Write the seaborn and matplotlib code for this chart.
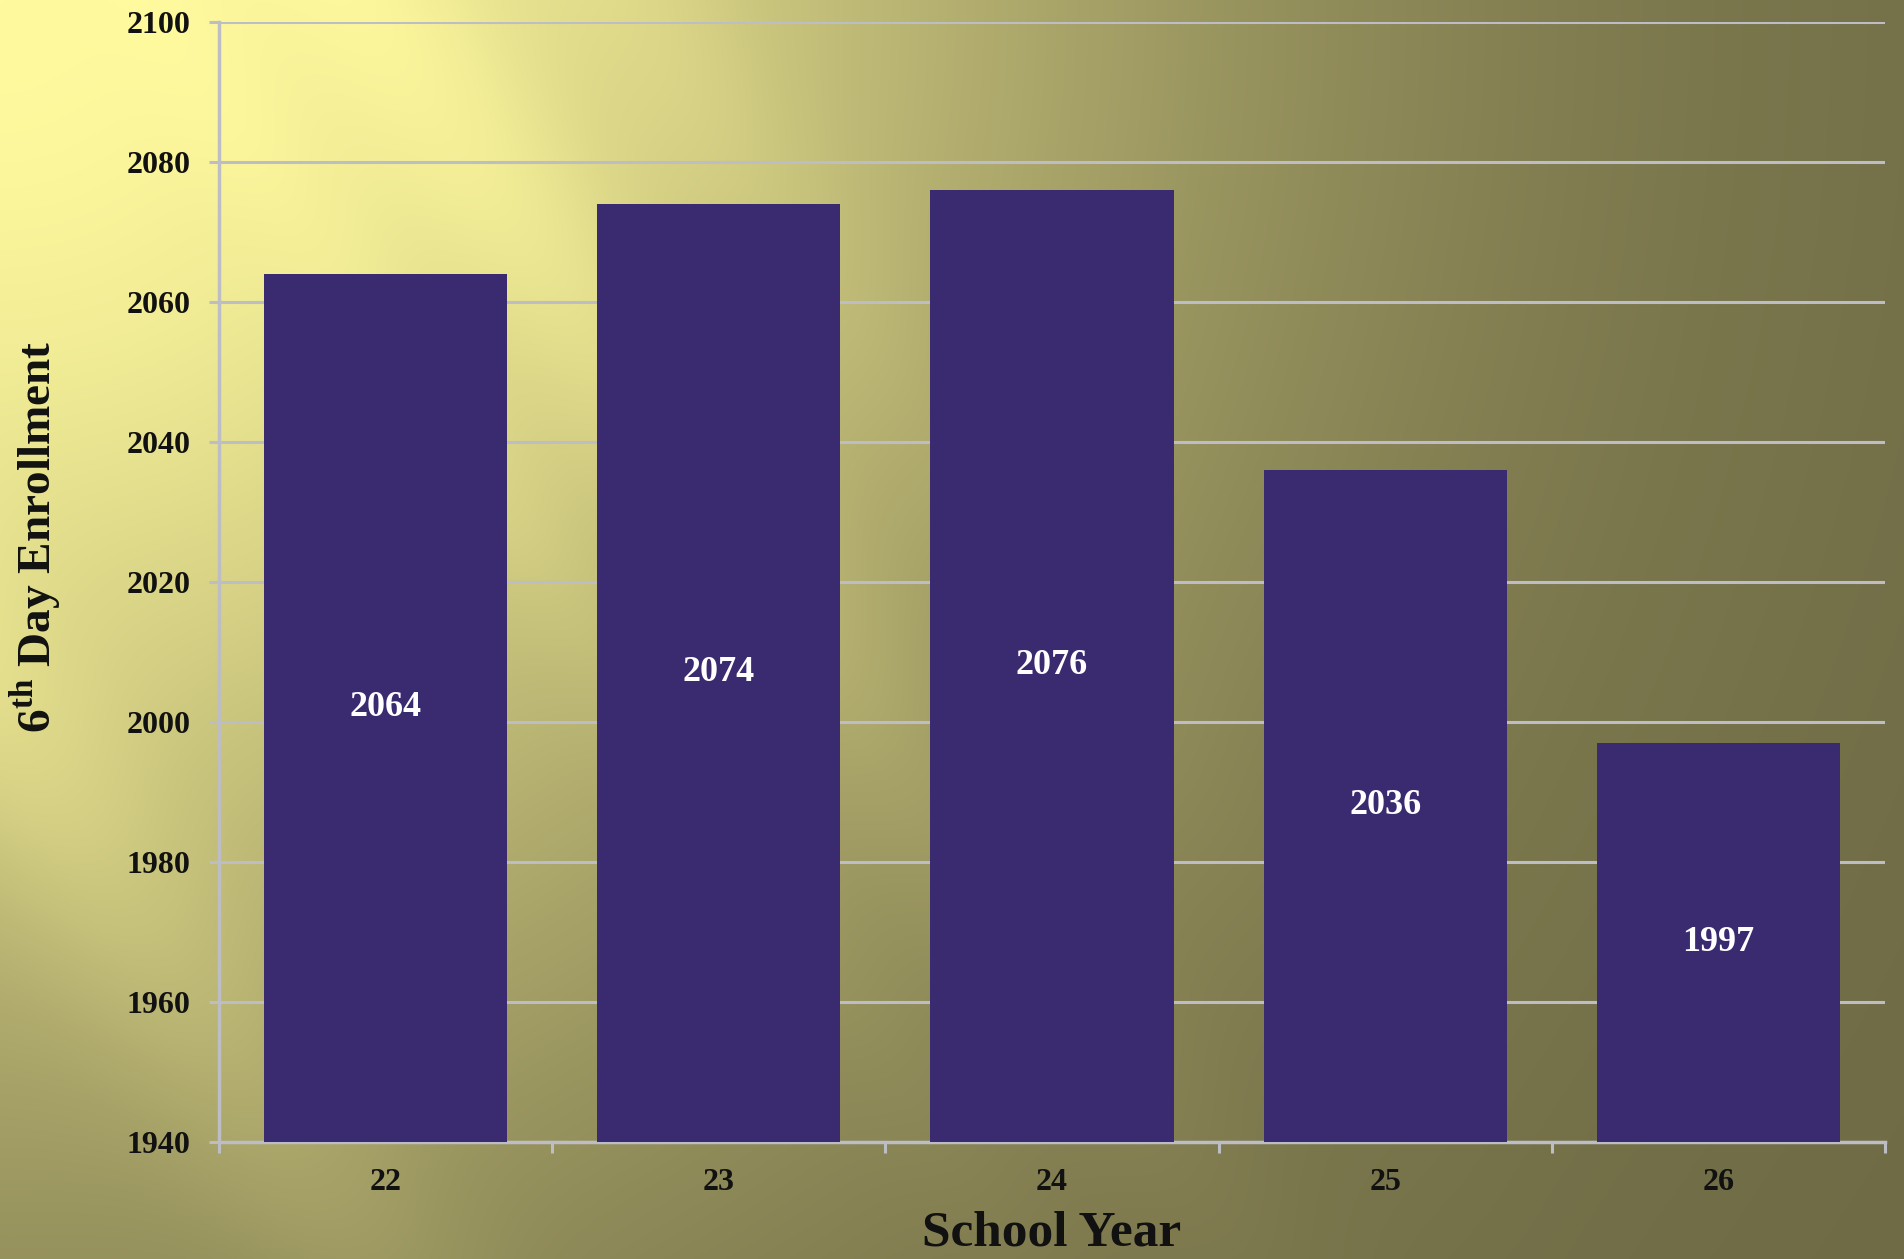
"""
6th Day Enrollment by School Year - bar chart on a yellow/olive spotlight background
"""

import numpy as np
import pandas as pd
import matplotlib
matplotlib.use('Agg')
import matplotlib.pyplot as plt
import seaborn as sns
from matplotlib.colors import to_rgb

# ==================== data ====================
school_years = ['22', '23', '24', '25', '26']
enrollment = [2064, 2074, 2076, 2036, 1997]
y_ticks = [1940, 1960, 1980, 2000, 2020, 2040, 2060, 2080, 2100]

# ==================== style ====================
sns.set_theme(style='white')
plt.rcParams['font.family'] = ['Liberation Serif', 'DejaVu Serif']
plt.rcParams['font.weight'] = 'bold'
plt.rcParams['mathtext.fontset'] = 'custom'
plt.rcParams['mathtext.rm'] = 'Liberation Serif:bold'
plt.rcParams['mathtext.bf'] = 'Liberation Serif:bold'

BAR_COLOR = '#3A2A70'
GRID_COLOR = '#BDBDC6'
TEXT_COLOR = '#111111'

W, H = 1904, 1259
fig = plt.figure(figsize=(W / 100, H / 100), dpi=100)

# ---- background: radial falloff from top-left plus soft diagonal light streaks ----
yy, xx = np.mgrid[0:H, 0:W].astype(float)
r = np.hypot(xx, yy)
f = np.exp(-(r / 1120.0) ** 2)
# streaks run down-right; u is the coordinate across them
u = xx * np.cos(np.radians(35)) - yy * np.sin(np.radians(35))
for centre, width, amp, reach in [(300, 90, 0.16, 1300), (120, 60, 0.08, 1200),
                                  (-420, 110, 0.16, 1600), (520, 80, 0.08, 1000)]:
    f += amp * np.exp(-((u - centre) / width) ** 2) * np.exp(-(r / reach) ** 2) * np.clip(r / 700, 0, 1)
f = np.clip(f, 0, 1)
bright = np.array(to_rgb('#FFFA9E'))
dark = np.array(to_rgb('#6D6944'))
bg = dark + (bright - dark) * f[..., None]

bg_ax = fig.add_axes([0, 0, 1, 1], zorder=-1)
bg_ax.imshow(bg, aspect='auto', interpolation='bilinear')
bg_ax.axis('off')

# ---- main axes ----
ax = fig.add_axes([219 / W, 1 - 1142 / H, (1885 - 219) / W, (1142 - 22) / H])
ax.set_facecolor('none')

df = pd.DataFrame({'year': school_years, 'enrollment': enrollment})
sns.barplot(data=df, x='year', y='enrollment', color=BAR_COLOR, saturation=1,
            width=0.73, linewidth=0, ax=ax, zorder=3)

ax.set_ylim(1940, 2100)
ax.set_xlim(-0.5, len(school_years) - 0.5)
ax.set_yticks(y_ticks)
ax.set_axisbelow(True)
ax.yaxis.grid(True, color=GRID_COLOR, linewidth=2.2, zorder=0)
ax.xaxis.grid(False)

for side in ['top', 'right']:
    ax.spines[side].set_visible(False)
for side in ['left', 'bottom']:
    ax.spines[side].set_color(GRID_COLOR)
    ax.spines[side].set_linewidth(2.5)

# x ticks sit between categories, labels in the middle
ax.set_xticks(np.arange(-0.5, len(school_years)), minor=True)
ax.tick_params(axis='x', which='minor', bottom=True, length=8, width=2.2, color=GRID_COLOR)
ax.tick_params(axis='x', which='major', bottom=False, length=0, pad=19,
               labelsize=23, labelcolor=TEXT_COLOR)
ax.tick_params(axis='y', left=True, length=7.5, width=2.2, color=GRID_COLOR, pad=13,
               labelsize=23, labelcolor=TEXT_COLOR)
for lab in ax.get_xticklabels() + ax.get_yticklabels():
    lab.set_fontweight('bold')

ax.set_xlabel('')
ax.set_ylabel('')

# 数值标签 (centred in each bar)
for i, v in enumerate(enrollment):
    ax.text(i, (1940 + v) / 2, str(v), ha='center', va='center', color='white',
            fontsize=26, fontweight='bold', zorder=5)

fig.text(36 / W, 1 - 537 / H, r'6$^{\mathbf{th}}$ Day Enrollment', rotation=90,
         ha='center', va='center', fontsize=34, fontweight='bold', color=TEXT_COLOR)
fig.text(1052 / W, 1 - 1246 / H, 'School Year', ha='center', va='baseline',
         fontsize=37, fontweight='bold', color=TEXT_COLOR)

fig.savefig('out.png', dpi=100)
plt.close(fig)
